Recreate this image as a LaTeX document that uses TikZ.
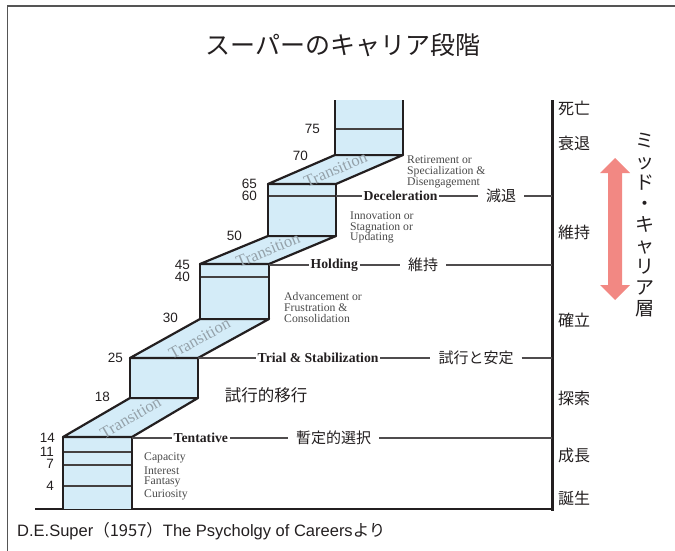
\documentclass[tikz,border=0pt]{standalone}
\usepackage{fontspec}
\setmainfont{Liberation Serif}
\newfontfamily\jpfont{Noto Sans CJK JP}
\newfontfamily\arialfont{Liberation Sans}
\definecolor{colblue}{HTML}{D4ECF8}
\definecolor{ink}{HTML}{231F20}
\definecolor{framec}{HTML}{555555}
\definecolor{salmonc}{HTML}{F28883}
\definecolor{descgray}{HTML}{4A4A4A}
\definecolor{transgray}{HTML}{94A1A9}
\tikzset{
  colbox/.style={fill=colblue, draw=ink, line width=2.2pt, line join=round},
  ageline/.style={draw=ink!85, line width=1.2pt},
  stageline/.style={draw=ink!80, line width=1.1pt},
  agelab/.style={anchor=east, inner sep=0pt, font=\arialfont\fontsize{13.5}{14}\selectfont, text=ink},
  stagelab/.style={inner xsep=1.5pt, inner ysep=0pt, font=\bfseries\fontsize{13.7}{14}\selectfont, text=ink},
  stagejp/.style={inner xsep=8pt, inner ysep=0pt, font=\jpfont\fontsize{15}{16}\selectfont, text=ink},
  desclab/.style={anchor=west, align=left, inner sep=0pt, font=\fontsize{11.7}{10.7}\selectfont, text=descgray},
  translab/.style={inner sep=0pt, font=\fontsize{16.5}{17}\selectfont, text=transgray},
  axislab/.style={anchor=west, inner sep=0pt, font=\jpfont\fontsize{16}{17}\selectfont, text=ink},
}
\begin{document}
\begin{tikzpicture}[x=1pt,y=-1pt]
\useasboundingbox (0,0) rectangle (675,551);
% frame
\draw[framec, line width=1.3pt] (7.5,551) -- (7.5,6) -- (675,6);
% title
\node[font=\jpfont\fontsize{25}{27}\selectfont, text=ink] (title) at (343,45) {スーパーのキャリア段階};

% ground line and axis
\coordinate (g0) at (35,509);
\coordinate (g1) at (553,509);
\draw[ink, line width=1.3pt] (g0) -- (g1);
\coordinate (ax0) at (552,100);
\coordinate (ax1) at (552,511);
\draw[ink, line width=3pt] (ax0) -- (ax1);

% column 1
\fill[colblue] (63,437) rectangle (132,509);
\draw[ageline] (63,452) -- (132,452);
\draw[ageline] (63,465) -- (132,465);
\draw[ageline] (63,486) -- (132,486);
\draw[colbox, fill=none] (63,509) -- (63,437) -- (132,437) -- (132,509);
% transition 1
\draw[colbox] (63,437) -- (130,398) -- (198,398) -- (132,437) -- cycle;
% column 2
\draw[colbox] (130,358) rectangle (198,398);
% transition 2
\draw[colbox] (130,358) -- (200,319) -- (269,319) -- (198,358) -- cycle;
% column 3
\fill[colblue] (200,264) rectangle (269,319);
\draw[ageline] (200,277) -- (269,277);
\draw[colbox, fill=none] (200,264) rectangle (269,319);
% transition 3
\draw[colbox] (200,264) -- (268,236) -- (336,236) -- (269,264) -- cycle;
% column 4
\fill[colblue] (268,184) rectangle (336,236);
\draw[ageline] (268,196) -- (336,196);
\draw[colbox, fill=none] (268,184) rectangle (336,236);
% transition 4
\draw[colbox] (268,184) -- (335,155) -- (403,155) -- (336,184) -- cycle;
% column 5
\fill[colblue] (335,100) rectangle (403,155);
\draw[ageline] (335,129) -- (403,129);
\draw[colbox, fill=none] (335,100) -- (335,155) -- (403,155) -- (403,100);

% transition labels
\node[translab, rotate=30.2] (tr1) at (130.5,417.5) {Transition};
\node[translab, rotate=29.1] (tr2) at (199.5,338.5) {Transition};
\node[translab, rotate=22.4] (tr3) at (268,250) {Transition};
\node[translab, rotate=23.4] (tr4) at (335.5,169.5) {Transition};

% ages
\node[agelab] (a14) at (55,438) {14};
\node[agelab] (a11) at (54,452) {11};
\node[agelab] (a7) at (54,464) {7};
\node[agelab] (a4) at (54,486) {4};
\node[agelab] (a18) at (110,397) {18};
\node[agelab] (a25) at (123,358) {25};
\node[agelab] (a30) at (178,318) {30};
\node[agelab] (a45) at (190,265) {45};
\node[agelab] (a40) at (190,277) {40};
\node[agelab] (a50) at (242,236) {50};
\node[agelab] (a65) at (257,184) {65};
\node[agelab] (a60) at (257,196) {60};
\node[agelab] (a70) at (308,156) {70};
\node[agelab] (a75) at (320,129) {75};

% stage lines
\coordinate (s1) at (132,438);
\node[stagelab, anchor=west] (tent) at (172,438) {Tentative};
\node[stagejp] (tentjp) at (333.5,438) {暫定的選択};
\coordinate (e1) at (552,438);
\draw[stageline] (s1) -- (tent.west);
\draw[stageline] (tent.east) -- (tentjp.west);
\draw[stageline] (tentjp.east) -- (e1);

\coordinate (s2) at (198,358);
\node[stagelab, anchor=west] (trial) at (256,358) {Trial \& Stabilization};
\node[stagejp] (trialjp) at (476,358) {試行と安定};
\coordinate (e2) at (552,358);
\draw[stageline] (s2) -- (trial.west);
\draw[stageline] (trial.east) -- (trialjp.west);
\draw[stageline] (trialjp.east) -- (e2);

\coordinate (s3) at (269,265);
\node[stagelab, anchor=west] (hold) at (309,265) {Holding};
\node[stagejp] (holdjp) at (423,265) {維持};
\coordinate (e3) at (552,265);
\draw[stageline] (s3) -- (hold.west);
\draw[stageline] (hold.east) -- (holdjp.west);
\draw[stageline] (holdjp.east) -- (e3);

\coordinate (s4) at (336,196);
\node[stagelab, anchor=west] (decel) at (362,196) {Deceleration};
\node[stagejp] (deceljp) at (501,196) {減退};
\coordinate (e4) at (552,196);
\draw[stageline] (s4) -- (decel.west);
\draw[stageline] (decel.east) -- (deceljp.west);
\draw[stageline] (deceljp.east) -- (e4);

% descriptions
\node[desclab] (d5) at (407,172) {Retirement or\\Specialization \&\\Disengagement};
\node[desclab] (d4) at (350,227.5) {Innovation or\\Stagnation or\\Updating};
\node[desclab] (d3) at (284,307.5) {Advancement or\\Frustration \&\\Consolidation};
\node[desclab] (d1a) at (144,458) {Capacity};
\node[desclab] (d1b) at (144,471) {Interest};
\node[desclab] (d1c) at (144,482) {Fantasy};
\node[desclab] (d1d) at (144,495) {Curiosity};
\node[font=\jpfont\fontsize{16.5}{18}\selectfont, text=ink, inner sep=0pt] (trans) at (266,395) {試行的移行};

% axis labels
\node[axislab] (l1) at (558,108) {死亡};
\node[axislab] (l2) at (558,143) {衰退};
\node[axislab] (l3) at (558,232) {維持};
\node[axislab] (l4) at (558,320) {確立};
\node[axislab] (l5) at (558,398) {探索};
\node[axislab] (l6) at (558,455) {成長};
\node[axislab] (l7) at (558,498) {誕生};

% mid-career arrow
\fill[salmonc] (615,158) -- (630,173) -- (622,173) -- (622,285) -- (630,285) -- (615,300)
  -- (600,285) -- (608,285) -- (608,173) -- (600,173) -- cycle;
\node[align=center, inner sep=0pt, font=\jpfont\fontsize{19}{21.1}\selectfont, text=ink] (mid) at (645,225)
  {ミ\\ッ\\ド\\・\\キ\\ャ\\リ\\ア\\層};

% source
\node[anchor=west, inner sep=0pt, font=\fontsize{16.5}{18}\selectfont, text=ink] (src) at (17,531)
  {\arialfont D.E.Super\jpfont （1957）\arialfont The Psycholgy of Careers\jpfont より};
\end{tikzpicture}
\end{document}
